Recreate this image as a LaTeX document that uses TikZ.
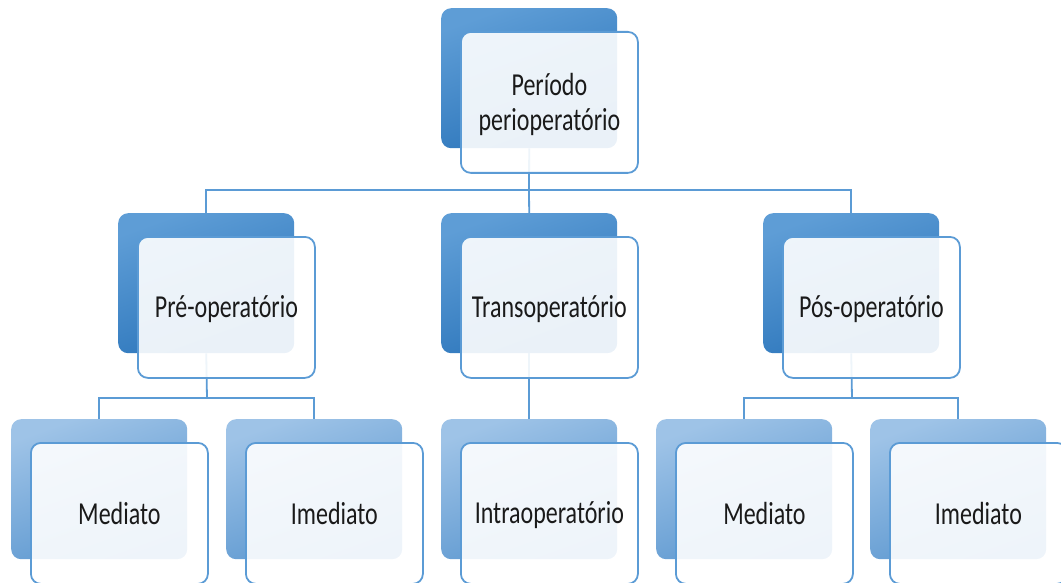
\documentclass[tikz,border=0pt]{standalone}
\usepackage{fontspec}
\newfontfamily\lblfont[FakeStretch=0.75]{Carlito}
\definecolor{lineblue}{HTML}{5B9BD5}
\definecolor{darkA}{HTML}{5E9DD6}
\definecolor{darkB}{HTML}{2A74BA}
\definecolor{lightA}{HTML}{9EC3E7}
\definecolor{lightB}{HTML}{5A96CF}
\definecolor{txt}{HTML}{1A1A1A}
\begin{document}
\begin{tikzpicture}[x=1pt,y=-1pt,
  backbox/.style={rectangle, rounded corners=10pt, minimum width=176pt, minimum height=140pt,
    anchor=north west, inner sep=0pt, draw=none},
  backdark/.style={backbox, top color=darkA, bottom color=darkB, shading angle=20},
  backlight/.style={backbox, top color=lightA, bottom color=lightB, shading angle=20},
  frontbox/.style={rectangle, rounded corners=10pt, minimum width=177pt, minimum height=141pt,
    anchor=north west, inner sep=0pt, draw=lineblue, line width=1.8pt, fill=white,
    fill opacity=0.9, text opacity=1, text=txt, align=center, text depth=1pt,
    font=\lblfont\fontsize{32}{35}\selectfont},
  conn/.style={draw=lineblue, line width=1.8pt}]
\useasboundingbox (0,0) rectangle (1061,583);
\clip (0,0) rectangle (1061,583);
% back boxes
\node[backdark] (b1) at (441,8) {};
\node[backdark] (b2a) at (118,213) {};
\node[backdark] (b2b) at (441,213) {};
\node[backdark] (b2c) at (763,213) {};
\node[backlight] (b3a) at (11,419) {};
\node[backlight] (b3b) at (226,419) {};
\node[backlight] (b3c) at (441,419) {};
\node[backlight] (b3d) at (656,419) {};
\node[backlight] (b3e) at (870,419) {};
% connectors
\coordinate (j1) at (529,190);
\coordinate (j2) at (207,398);
\coordinate (j3) at (852,398);
\draw[conn] (b1.south) -- (j1);
\draw[conn] (j1) -| (b2a.north);
\draw[conn] (j1) -| (b2c.north);
\draw[conn] (j1) -- (b2b.north);
\draw[conn] (b2a.south) -- (j2);
\draw[conn] (j2) -| (b3a.north);
\draw[conn] (j2) -| (b3b.north);
\draw[conn] (b2b.south) -- (b3c.north);
\draw[conn] (b2c.south) -- (j3);
\draw[conn] (j3) -| (b3d.north);
\draw[conn] (j3) -| (b3e.north);
% front boxes
\node[frontbox] (f1) at (460,31) {Período\\perioperatório};
\node[frontbox] (f2a) at (137,236) {Pré-operatório};
\node[frontbox] (f2b) at (460,236) {Transoperatório};
\node[frontbox] (f2c) at (782,236) {Pós-operatório};
\node[frontbox] (f3a) at (30,442) {Mediato};
\node[frontbox] (f3b) at (245,442) {Imediato};
\node[frontbox] (f3c) at (460,442) {Intraoperatório};
\node[frontbox] (f3d) at (675,442) {Mediato};
\node[frontbox] (f3e) at (889,442) {Imediato};
\end{tikzpicture}
\end{document}
